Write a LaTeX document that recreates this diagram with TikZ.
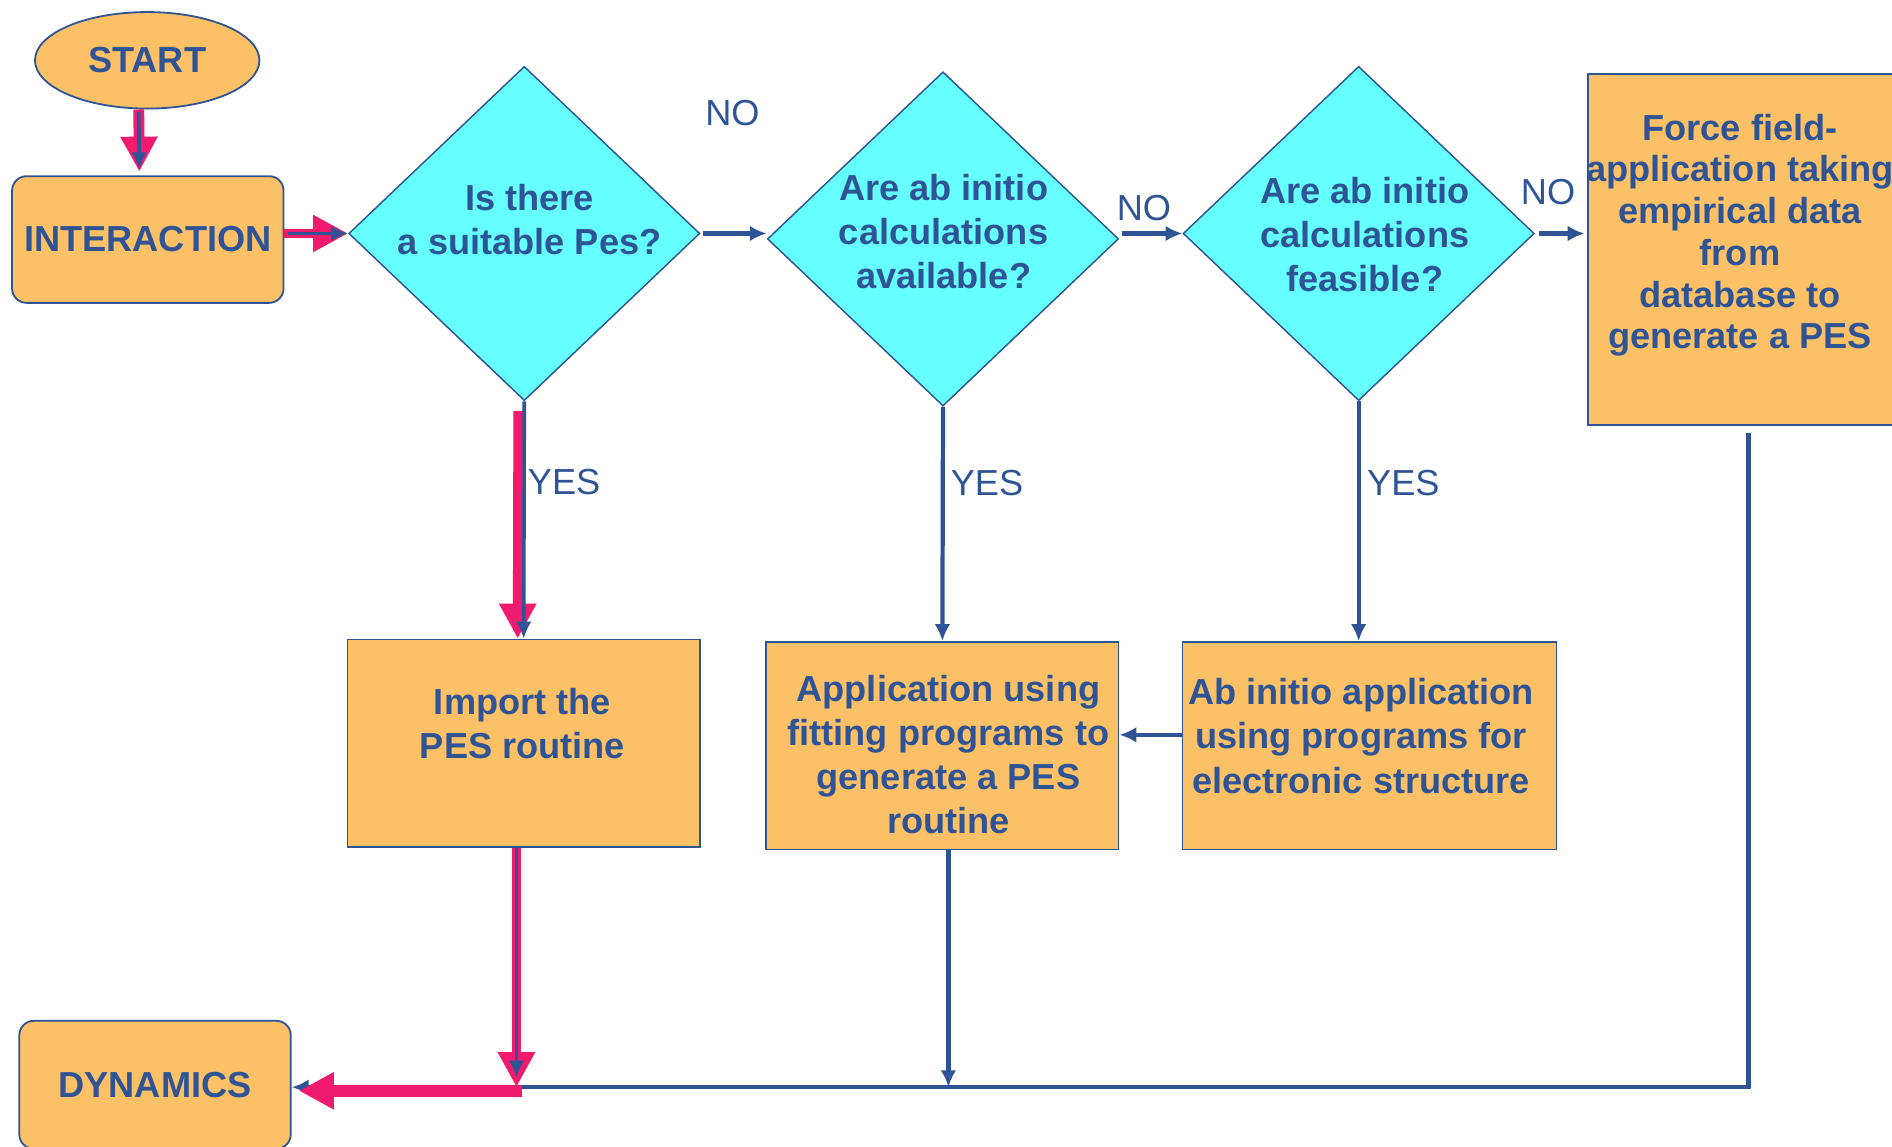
\documentclass[tikz,border=0pt]{standalone}
\usepackage{fontspec}
\setmainfont{Liberation Sans}
\usetikzlibrary{shapes.geometric,arrows.meta}
\definecolor{fblue}{RGB}{47,84,150}
\definecolor{forange}{RGB}{252,192,102}
\definecolor{fcyan}{RGB}{102,255,255}
\definecolor{fpink}{RGB}{240,26,110}
\tikzset{
  box/.style={draw=fblue, line width=1.5pt, fill=forange},
  dec/.style={diamond, draw=fblue, line width=1.2pt, fill=fcyan, inner sep=0pt, aspect=1.05,
    minimum width=291, minimum height=277},
  txt/.style={text=fblue, font=\bfseries\fontsize{30}{36.5}\selectfont, align=center, inner sep=0pt},
  yn/.style={text=fblue, font=\fontsize{30}{36}\selectfont, inner sep=0pt},
  link/.style={draw=fblue, line width=3.5pt, -{Latex[length=14pt,width=13pt]}},
  hot/.style={draw=fpink, line width=8pt, -{Triangle[length=29pt,width=29pt]}},
  hotin/.style={draw=fblue, line width=3pt, -{Latex[length=14pt,width=13pt]}}
}
\begin{document}
\begin{tikzpicture}[x=1pt,y=-1pt]
  \useasboundingbox (0,0) rectangle (1568,950);
  % start, interaction and dynamics
  \node[box, ellipse, minimum width=186, minimum height=80, txt] (start) at (122,50) {START};
  \node[box, rounded corners=12pt, minimum width=225, minimum height=105, txt] (inter) at (122.5,198.5) {INTERACTION};
  \node[box, rounded corners=12pt, minimum width=225, minimum height=106, txt] (dyn) at (128.5,899) {DYNAMICS};
  % the three questions
  \foreach \x/\y [count=\i] in {434.5/193.5, 781.5/198, 1126/193.5}
    \node[dec] (d\i) at (\x,\y) {};
  \node[txt] (d1t) at (439,182) {Is there\\a suitable Pes?};
  \node[txt] (d2t) at (782,192) {Are ab initio\\calculations\\available?};
  \node[txt] (d3t) at (1131,194.5) {Are ab initio\\calculations\\feasible?};
  % answers
  \node[box, minimum width=266, minimum height=291] (ff) at (1449,206.5) {};
  \node[txt, font=\bfseries\fontsize{30}{34.6}\selectfont] (fft) at (1442,195)
    {Force field-\\application taking\\empirical data\\from\\database to\\generate a PES};
  \node[box, minimum width=292, minimum height=172] (imp) at (434,616) {};
  \node[txt] (impt) at (433,600) {Import the\\PES routine};
  \node[box, minimum width=292, minimum height=172] (app) at (781,618) {};
  \node[txt] (appt) at (786,625) {Application using\\fitting programs to\\generate a PES\\routine};
  \node[box, minimum width=310, minimum height=172] (abi) at (1135,618) {};
  \node[txt] (abit) at (1128,610) {Ab initio application\\using programs for\\electronic structure};
  % yes / no
  \foreach \lab/\x/\y [count=\i] in {NO/607/94, NO/948/172, NO/1283/159,
      YES/467.5/399.5, YES/818/400, YES/1163/400}
    \node[yn] (l\i) at (\x,\y) {\lab};
  \coordinate (j) at (428,901);
  \coordinate (bt) at (786,901);
  % the marked path
  \draw[hot, line width=9pt, shorten >=3pt] ([xshift=-7pt]start.south) -- ([xshift=-7pt]inter.north);
  \draw[hotin, shorten <=2pt, shorten >=5pt] ([xshift=-7pt]start.south) -- ([xshift=-7pt]inter.north);
  \draw[hot, line width=7pt] (inter.east |- d1.west) -- (d1.west);
  \draw[hotin, shorten <=3pt] (inter.east |- d1.west) -- (d1.west);
  \draw[hot, shorten <=8pt] ([xshift=-5pt]d1.south) -- ([xshift=-5pt]imp.north);
  \draw[hotin] (d1.south) -- (imp.north);
  % edges
  \draw[link, shorten <=2pt] (d1.east) -- (d1.east -| d2.west);
  \draw[link, shorten <=2pt] (d2.east |- d3.west) -- (d3.west);
  \draw[link, shorten <=3pt, shorten >=2pt] (d3.east) -- (d3.east -| ff.west);
  \draw[link] (d2.south) -- (app.north);
  \draw[link] (d3.south) -- (d3.south |- abi.north);
  \draw[link] ([yshift=9pt]abi.west) -- ([yshift=9pt]app.east);
  \draw[link] (app.south -| bt) -- (bt);
  \draw[link, shorten <=6pt] (ff.south) -- (ff.south |- j) -- (j -| dyn.east);
  \draw[hot] (imp.south -| j) -- (j);
  \draw[hotin] (imp.south -| j) -- ([yshift=8pt]j);
  \draw[hot, line width=10pt, shorten >=6pt] ([xshift=5pt,yshift=-3pt]j) -- ([yshift=-3pt]j -| dyn.east);
\end{tikzpicture}
\end{document}
